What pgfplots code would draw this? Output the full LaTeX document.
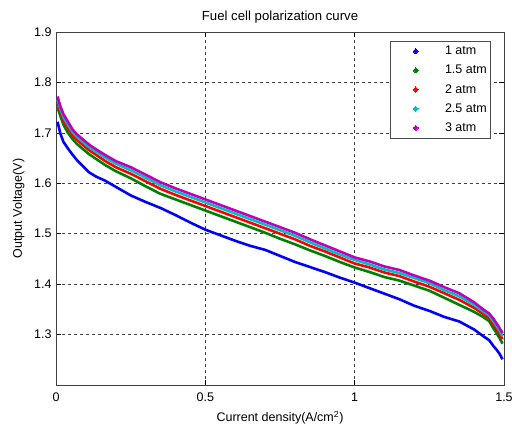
\documentclass[border=0pt]{standalone}
\usepackage{fontspec}
\setmainfont{Liberation Sans}
\usepackage{pgfplots}
\usepackage{pgfplotstable}
\pgfplotsset{compat=1.18}

\definecolor{mblue}{rgb}{0,0,1}
\definecolor{mgreen}{rgb}{0,0.5,0}
\definecolor{mred}{rgb}{1,0,0}
\definecolor{mcyan}{rgb}{0,0.75,0.75}
\definecolor{mmagenta}{rgb}{0.75,0,0.75}

% current density (A/cm^2) and output voltage (V) at 1, 1.5, 2, 2.5, 3 atm
\pgfplotstableread{
i      p1     p15    p2     p25    p3
0.005  1.722  1.751  1.760  1.766  1.772
0.015  1.698  1.733  1.741  1.747  1.752
0.025  1.682  1.716  1.725  1.731  1.737
0.040  1.669  1.700  1.709  1.716  1.722
0.055  1.657  1.688  1.696  1.702  1.707
0.070  1.646  1.678  1.686  1.692  1.697
0.090  1.634  1.668  1.676  1.682  1.687
0.110  1.622  1.658  1.666  1.672  1.677
0.135  1.613  1.648  1.656  1.662  1.667
0.165  1.605  1.636  1.644  1.651  1.656
0.200  1.593  1.624  1.632  1.639  1.644
0.250  1.576  1.610  1.619  1.626  1.632
0.300  1.563  1.594  1.604  1.611  1.617
0.350  1.551  1.579  1.589  1.596  1.602
0.400  1.537  1.568  1.577  1.584  1.590
0.450  1.522  1.557  1.566  1.573  1.579
0.500  1.508  1.546  1.555  1.562  1.568
0.550  1.497  1.535  1.544  1.551  1.557
0.600  1.486  1.524  1.533  1.540  1.546
0.650  1.476  1.513  1.522  1.529  1.535
0.700  1.468  1.502  1.511  1.518  1.524
0.750  1.456  1.490  1.500  1.507  1.513
0.800  1.444  1.479  1.489  1.496  1.502
0.850  1.434  1.467  1.476  1.483  1.489
0.900  1.424  1.456  1.465  1.471  1.477
0.950  1.413  1.444  1.453  1.459  1.465
1.000  1.403  1.433  1.441  1.448  1.453
1.050  1.392  1.424  1.433  1.439  1.445
1.100  1.381  1.414  1.423  1.429  1.435
1.150  1.370  1.407  1.416  1.422  1.428
1.200  1.357  1.397  1.405  1.412  1.417
1.250  1.347  1.387  1.395  1.402  1.407
1.300  1.335  1.373  1.382  1.388  1.394
1.350  1.326  1.359  1.369  1.376  1.382
1.400  1.310  1.345  1.353  1.359  1.364
1.430  1.297  1.335  1.341  1.346  1.350
1.450  1.289  1.327  1.333  1.338  1.342
1.465  1.277  1.312  1.320  1.326  1.331
1.475  1.270  1.303  1.311  1.317  1.322
1.485  1.262  1.293  1.301  1.308  1.313
1.495  1.251  1.282  1.291  1.297  1.303
}\polar

\begin{document}
\begin{tikzpicture}
\useasboundingbox (-56pt,-42pt) rectangle (456pt,385pt);
\begin{axis}[
  at={(0pt,0pt)}, anchor=south west,
  scale only axis, width=448pt, height=353pt,
  xmin=0, xmax=1.5, ymin=1.2, ymax=1.9,
  xtick={0,0.5,1,1.5}, ytick={1.3,1.4,1.5,1.6,1.7,1.8,1.9},
  xticklabels={0,0.5,1,1.5},
  yticklabels={1.3,1.4,1.5,1.6,1.7,1.8,1.9},
  font=\fontsize{12.5}{14}\selectfont,
  tick align=inside, major tick length=5pt,
  tick style={black, line width=0.6pt},
  axis line style={black!75, line width=0.8pt},
  grid=major,
  major grid style={black!75, line width=0.7pt, dash pattern=on 3pt off 3pt},
  xticklabel style={anchor=base, yshift=-16.7pt},
  yticklabel style={anchor=east, xshift=-1pt},
  title={Fuel cell polarization curve},
  title style={at={(axis description cs:0.5,1)}, anchor=base, yshift=5pt,
    font=\fontsize{13.2}{15}\selectfont},
  xlabel={Current density(A/cm\textsuperscript{2})},
  xlabel style={at={(axis description cs:0.5,0)}, anchor=base, yshift=-37pt},
  ylabel={Output Voltage(V)},
  ylabel style={at={(axis description cs:0,0.5)}, anchor=base, yshift=34pt},
  legend cell align=left,
  legend style={at={(0.971,0.975)}, anchor=north east, draw=black!70,
    line width=0.6pt, fill=white, inner xsep=2pt, inner ysep=3pt,
    row sep=5pt, font=\fontsize{12.5}{14}\selectfont},
  legend image code/.code={
    \path (0pt,0pt) (48pt,0pt);
    \fill[#1, line width=0pt] (22pt,2.6pt) -- (24.6pt,0pt) -- (22pt,-2.6pt) -- (19.4pt,0pt) -- cycle;
  },
]
\addplot[mblue, line width=2.6pt] table[x=i, y=p1] {\polar};
\addplot[mgreen, line width=2.6pt] table[x=i, y=p15] {\polar};
\addplot[mred, line width=2.6pt] table[x=i, y=p2] {\polar};
\addplot[mcyan, line width=2.6pt] table[x=i, y=p25] {\polar};
\addplot[mmagenta, line width=2.6pt] table[x=i, y=p3] {\polar};
\legend{1 atm, 1.5 atm, 2 atm, 2.5 atm, 3 atm}
\end{axis}
\end{tikzpicture}
\end{document}
